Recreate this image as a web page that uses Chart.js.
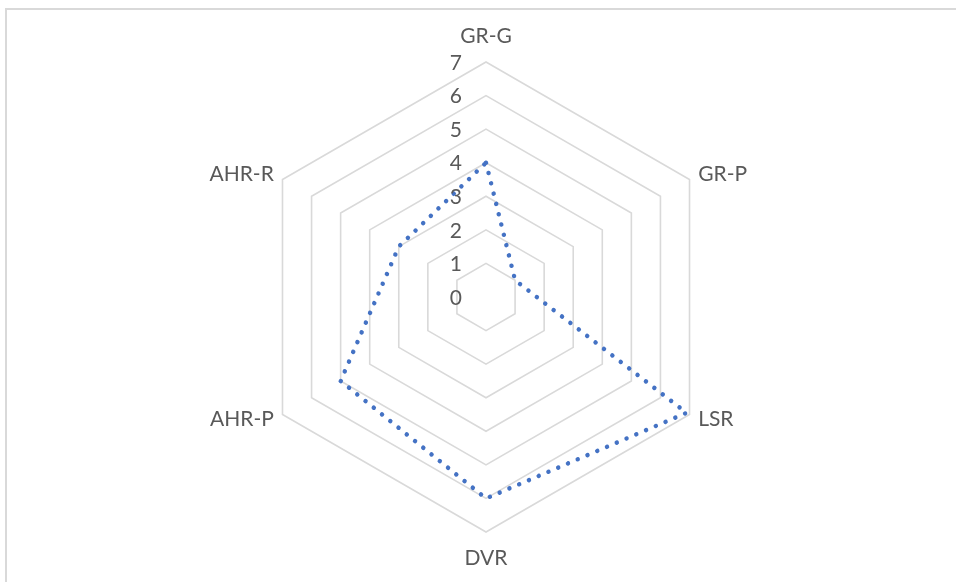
<!DOCTYPE html>
<html>
<head>
<meta charset="utf-8">
<script src="https://cdn.jsdelivr.net/npm/chart.js@4/dist/chart.umd.min.js"></script>
<style>
  html, body { margin: 0; padding: 0; background: #fff; overflow: hidden; }
  #frame { position: absolute; left: 5px; top: 8px; width: 1000px; height: 1000px; border: 2px solid #d9d9d9; }
  #chart { position: absolute; left: 0; top: 0; }
</style>
</head>
<body>
<div id="frame"></div>
<canvas id="chart" width="956" height="582"></canvas>
<script>
const categories = ['GR-G', 'GR-P', 'LSR', 'DVR', 'AHR-P', 'AHR-R'];
const seriesValues = [4, 1, 6.9, 6, 5, 3];
const tickLabels = ['0', '1', '2', '3', '4', '5', '6', '7'];

const textColor = '#595959';
const textFont = '21px Lato';

// tick labels and axis labels, placed with the scale's own geometry
const labelPlugin = {
  id: 'excelLabels',
  afterDraw(chart) {
    const scale = chart.scales.r;
    const ctx = chart.ctx;
    ctx.save();
    ctx.fillStyle = textColor;
    ctx.font = textFont;
    ctx.textBaseline = 'middle';

    ctx.textAlign = 'right';
    tickLabels.forEach(t => {
      const d = scale.getDistanceFromCenterForValue(Number(t));
      ctx.fillText(t, scale.xCenter - 24, scale.yCenter - d + 1);
    });

    const outer = scale.getDistanceFromCenterForValue(7);
    chart.data.labels.forEach((lab, i) => {
      const vertical = i === 0 || i === 3;
      const p = scale.getPointPosition(i, outer + (vertical ? 26 : 10));
      ctx.textAlign = vertical ? 'center' : (i < 3 ? 'left' : 'right');
      ctx.fillText(lab, p.x, p.y);
    });
    ctx.restore();
  }
};

new Chart(document.getElementById('chart').getContext('2d'), {
  type: 'radar',
  data: {
    labels: categories,
    datasets: [{
      label: 'Series1',
      data: seriesValues,
      borderColor: '#4472c4',
      borderWidth: 4.5,
      borderDash: [0.01, 10.6],
      borderCapStyle: 'round',
      fill: false,
      pointRadius: 0,
      pointHoverRadius: 0,
      tension: 0
    }]
  },
  options: {
    responsive: false,
    animation: false,
    layout: { padding: { top: 62, bottom: 50, left: 16, right: 0 } },
    plugins: { legend: { display: false }, tooltip: { enabled: false } },
    scales: {
      r: {
        min: 0,
        max: 7,
        ticks: { stepSize: 1, display: false },
        grid: { color: '#d9d9d9', lineWidth: 1.6 },
        angleLines: { display: false },
        pointLabels: { display: false }
      }
    }
  },
  plugins: [labelPlugin]
});
</script>
</body>
</html>
